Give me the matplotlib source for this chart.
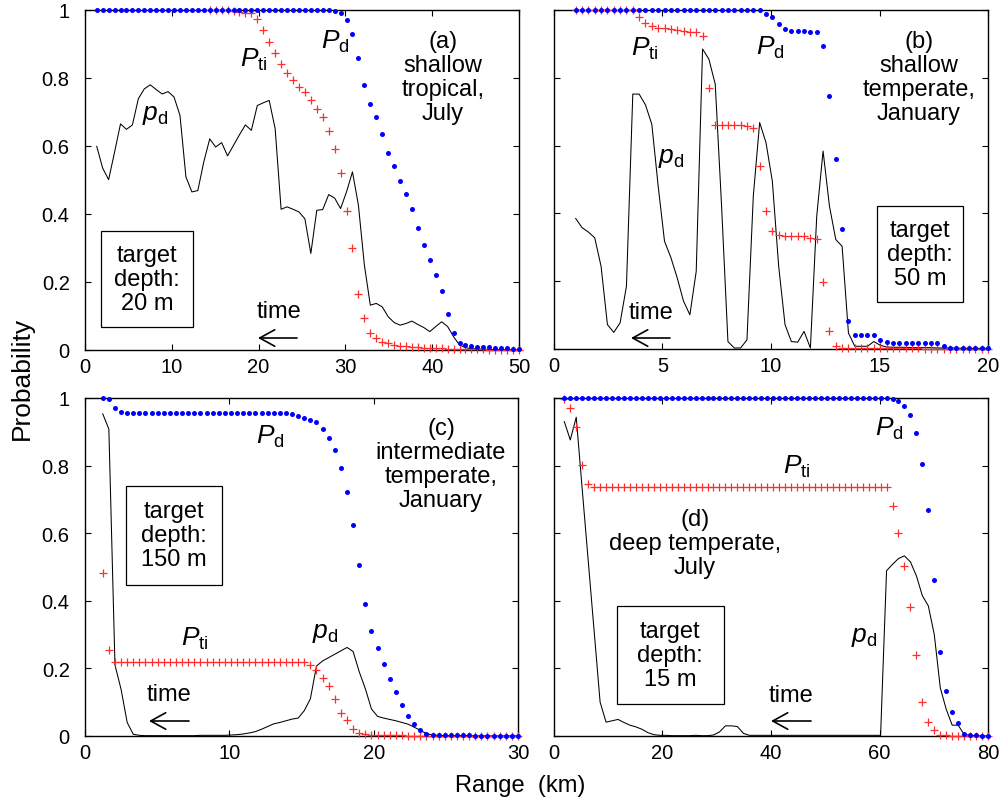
import numpy as np
import matplotlib
matplotlib.use("Agg")
import matplotlib.pyplot as plt
from matplotlib.patches import Rectangle, FancyArrowPatch

plt.rcParams['font.family'] = ['Liberation Sans', 'DejaVu Sans']
plt.rcParams['mathtext.fontset'] = 'custom'
plt.rcParams['mathtext.rm'] = 'Liberation Sans'
plt.rcParams['mathtext.it'] = 'Liberation Sans:italic'

# ---------------- data ----------------
# panel (a): shallow tropical, July (target depth 20 m)
range_a = np.linspace(1.35, 50, 72)
pd_line_a = [0.599, 0.535, 0.501, 0.582, 0.665, 0.649, 0.662, 0.739, 0.768, 0.780,
             0.766, 0.753, 0.760, 0.744, 0.690, 0.509, 0.465, 0.469, 0.553, 0.621,
             0.597, 0.610, 0.571, 0.602, 0.633, 0.662, 0.646, 0.719, 0.727, 0.734,
             0.651, 0.414, 0.421, 0.414, 0.406, 0.386, 0.284, 0.411, 0.413, 0.457,
             0.447, 0.416, 0.465, 0.524, 0.426, 0.250, 0.132, 0.137, 0.127, 0.098,
             0.081, 0.073, 0.078, 0.085, 0.075, 0.066, 0.054, 0.069, 0.083, 0.069,
             0.039, 0.015, 0.007, 0.004, 0.003, 0.002, 0.002, 0.001, 0.001, 0.001,
             0.000, 0.000]
Pti_a = [np.nan] * 19 + [1.0, 1.0, 1.0, 1.0, 0.998, 0.995, 0.992, 0.99,
         0.975, 0.94, 0.905, 0.875, 0.84, 0.815, 0.795, 0.775, 0.76, 0.735,
         0.71, 0.685, 0.645, 0.59, 0.52, 0.41, 0.30, 0.165, 0.093, 0.049,
         0.034, 0.025, 0.020, 0.016, 0.013, 0.011, 0.009, 0.008, 0.007, 0.006,
         0.005, 0.005, 0.004, 0.004, 0.003, 0.003, 0.002, 0.002, 0.002, 0.001,
         0.001, 0.001, 0.001, 0.0, 0.0]
Pd_a = [1.0] * 40 + [0.998, 0.99, 0.97, 0.93, 0.86, 0.78, 0.725, 0.685,
        0.635, 0.58, 0.54, 0.498, 0.46, 0.415, 0.36, 0.31, 0.265, 0.222,
        0.175, 0.105, 0.05, 0.020, 0.015, 0.012, 0.010, 0.009, 0.008, 0.007,
        0.006, 0.005, 0.004, 0.003]

# panel (b): shallow temperate, January (target depth 50 m)
range_b = np.linspace(1.0, 20, 66)
pd_line_b = [0.385, 0.358, 0.345, 0.328, 0.244, 0.072, 0.049, 0.077, 0.185, 0.752,
             0.752, 0.72, 0.663, 0.481, 0.318, 0.27, 0.21, 0.141, 0.101, 0.229,
             0.885, 0.855, 0.781, 0.421, 0.022, 0.003, 0.003, 0.027, 0.451, 0.668,
             0.609, 0.495, 0.244, 0.072, 0.022, 0.020, 0.052, 0.003, 0.392, 0.584,
             0.422, 0.323, 0.303, 0.047, 0.008, 0.008, 0.008, 0.022, 0.011, 0.006,
             0.005, 0.005, 0.005, 0.004, 0.004, 0.004, 0.004, 0.003, 0.003, 0.003,
             0.003, 0.002, 0.002, 0.002, 0.002, 0.002]
Pti_b = [1.0] * 10 + [0.978, 0.963, 0.954, 0.946, 0.946, 0.944, 0.942, 0.939, 0.936,
         0.934, 0.922, 0.771, 0.66, 0.66, 0.66, 0.66, 0.66, 0.658, 0.653, 0.54,
         0.407, 0.347, 0.335, 0.333, 0.333, 0.333, 0.333, 0.327, 0.325, 0.197,
         0.054, 0.008, 0.004, 0.003, 0.003, 0.003, 0.003, 0.003, 0.002, 0.002,
         0.002, 0.002, 0.002, 0.002, 0.002, 0.001, 0.001, 0.001, 0.001, 0.001,
         0.001, 0.001, 0.001, 0.001, 0.001, 0.001]
Pd_b = [1.0] * 30 + [0.988, 0.978, 0.959, 0.944, 0.939, 0.937, 0.937, 0.934, 0.934,
        0.893, 0.745, 0.56, 0.355, 0.084, 0.042, 0.042, 0.042, 0.042, 0.027,
        0.022, 0.019, 0.019, 0.019, 0.019, 0.019, 0.019, 0.019, 0.019, 0.008,
        0.004, 0.004, 0.004, 0.004, 0.003, 0.003, 0.002]

# panel (c): intermediate temperate, January (target depth 150 m)
range_c = np.linspace(1.23, 30, 69)
pd_line_c = [0.953, 0.908, 0.21, 0.138, 0.040, 0.005, 0.002, 0.001, 0.001, 0.001,
             0.001, 0.001, 0.001, 0.001, 0.001, 0.001, 0.002, 0.002, 0.002, 0.002,
             0.002, 0.003, 0.004, 0.006, 0.009, 0.013, 0.02, 0.028, 0.036, 0.04,
             0.045, 0.05, 0.053, 0.075, 0.11, 0.207, 0.222, 0.232, 0.242, 0.252,
             0.262, 0.25, 0.19, 0.14, 0.08, 0.058, 0.053, 0.049, 0.045, 0.04,
             0.035, 0.026, 0.017, 0.007, 0.003, 0.002, 0.001, 0.001, 0.001, 0.001,
             0.001, 0.0, 0.0, 0.0, 0.0, 0.0, 0.0, 0.0, 0.0]
Pti_c = [0.482, 0.254] + [0.220] * 32 + [0.209, 0.195, 0.173, 0.148, 0.109, 0.069,
         0.047, 0.020, 0.010, 0.005, 0.003, 0.003, 0.002, 0.002, 0.002, 0.002,
         0.001, 0.001, 0.001, 0.001, 0.001, 0.001, 0.001, 0.001, 0.001, 0.001,
         0.0, 0.0, 0.0, 0.0, 0.0, 0.0, 0.0, 0.0, 0.0]
Pd_c = [1.0, 0.997, 0.969, 0.959, 0.956] + [0.955] * 26 + [0.952, 0.948, 0.940,
        0.936, 0.928, 0.908, 0.881, 0.846, 0.793, 0.722, 0.624, 0.505, 0.392,
        0.312, 0.259, 0.214, 0.170, 0.129, 0.093, 0.059, 0.035, 0.017, 0.007,
        0.004, 0.003, 0.003, 0.002, 0.002, 0.002, 0.002, 0.001, 0.001, 0.001,
        0.001, 0.001, 0.001, 0.001, 0.001]

# panel (d): deep temperate, July (target depth 15 m)
range_d = np.linspace(1.9, 80, 72)
pd_line_d = [0.93, 0.876, 0.943, 0.73, 0.52, 0.31, 0.10, 0.041, 0.045, 0.049,
             0.04, 0.032, 0.027, 0.02, 0.01, 0.004, 0.002, 0.002, 0.001, 0.001,
             0.001, 0.001, 0.002, 0.001, 0.001, 0.003, 0.012, 0.03, 0.03, 0.028,
             0.008, 0.002, 0.002, 0.002, 0.002, 0.002, 0.002, 0.002, 0.002, 0.002,
             0.002, 0.002, 0.002, 0.002, 0.002, 0.002, 0.002, 0.002, 0.002, 0.002,
             0.002, 0.002, 0.002, 0.002, 0.489, 0.508, 0.525, 0.533, 0.515, 0.474,
             0.415, 0.385, 0.3, 0.143, 0.079, 0.032, 0.032, 0.005, 0.002, 0.001,
             0.0, 0.0]
Pti_d = [0.997, 0.969, 0.913, 0.801, 0.745] + [0.738] * 50 + [0.679, 0.602, 0.503,
         0.383, 0.239, 0.102, 0.041, 0.018, 0.004, 0.002, 0.001, 0.001, 0.001,
         0.0, 0.0, 0.0, 0.0]
Pd_d = [1.0] * 55 + [0.998, 0.990, 0.977, 0.950, 0.896, 0.805, 0.668, 0.463, 0.250,
        0.134, 0.070, 0.037, 0.007, 0.003, 0.002, 0.001, 0.001]

xticks_a = [0, 10, 20, 30, 40, 50]
xticks_b = [0, 5, 10, 15, 20]
xticks_c = [0, 10, 20, 30]
xticks_d = [0, 20, 40, 60, 80]
yticks = [0, 0.2, 0.4, 0.6, 0.8, 1.0]
ytick_labels = ['0', '0.2', '0.4', '0.6', '0.8', '1']

# ---------------- figure ----------------
W, H = 1004, 803
fig = plt.figure(figsize=(W / 100, H / 100), dpi=100)


def make_ax(x0, y0, x1, y1):
    return fig.add_axes([x0 / W, 1 - y1 / H, (x1 - x0) / W, (y1 - y0) / H])


panels = [
    (make_ax(85, 11, 519, 351), range_a, pd_line_a, Pti_a, Pd_a, xticks_a, 50, True),
    (make_ax(554, 11, 988, 350), range_b, pd_line_b, Pti_b, Pd_b, xticks_b, 20, False),
    (make_ax(85, 399, 518, 737), range_c, pd_line_c, Pti_c, Pd_c, xticks_c, 30, True),
    (make_ax(554, 399, 988, 737), range_d, pd_line_d, Pti_d, Pd_d, xticks_d, 80, False),
]

for ax, xr, pdl, pti, Pd, xt, xmax, showy in panels:
    ax.plot(xr, pdl, color='black', lw=0.75, zorder=2)
    ax.plot(xr, pti, ls='none', marker='+', color='#ff2d2d', ms=5.5, mew=0.9,
            clip_on=False, zorder=3)
    ax.plot(xr, Pd, ls='none', marker='o', color='#0000ff', ms=3.6, mec='none',
            clip_on=False, zorder=4)
    ax.set_xlim(0, xmax)
    ax.set_ylim(0, 1)
    ax.set_xticks(xt)
    ax.set_xticklabels([str(t) for t in xt])
    ax.set_yticks(yticks)
    ax.set_yticklabels(ytick_labels)
    ax.tick_params(direction='in', top=True, right=True, length=4, width=0.8,
                   labelsize=14.5, labelleft=showy)
    ax.tick_params(axis='y', pad=11)
    ax.tick_params(axis='x', pad=5)
    for s in ax.spines.values():
        s.set_linewidth(1.0)


def ftext(px, py, s, **kw):
    kw.setdefault('fontsize', 17)
    kw.setdefault('ha', 'center')
    kw.setdefault('va', 'center')
    fig.text(px / W, 1 - py / H, s, **kw)


def fbox(x0, y0, x1, y1):
    fig.add_artist(Rectangle((x0 / W, 1 - y1 / H), (x1 - x0) / W, (y1 - y0) / H,
                             transform=fig.transFigure, fill=False,
                             edgecolor='black', lw=0.9))


def farrow(xhead, xtail, y):
    fig.add_artist(FancyArrowPatch(
        (xtail / W, 1 - y / H), (xhead / W, 1 - y / H), transform=fig.transFigure,
        arrowstyle='->,head_length=0.6,head_width=0.33', mutation_scale=18,
        lw=1.2, color='black', shrinkA=0, shrinkB=0))


Pd_lbl = r'$P_{\mathrm{d}}$'
Pti_lbl = r'$P_{\mathrm{ti}}$'
pd_lbl = r'$p_{\mathrm{d}}$'
lbl_size = 19
ls = 1.12

# panel (a)
ftext(335, 42, Pd_lbl, fontsize=lbl_size)
ftext(254, 60, Pti_lbl, fontsize=lbl_size)
ftext(155, 115, pd_lbl, fontsize=lbl_size)
ftext(443, 78, '(a)\nshallow\ntropical,\nJuly', linespacing=ls)
fbox(101, 232, 193, 328)
ftext(147, 280, 'target\ndepth:\n20 m', linespacing=ls)
ftext(279, 312, 'time')
farrow(258, 297, 339)

# panel (b)
ftext(770, 48, Pd_lbl, fontsize=lbl_size)
ftext(645, 49, Pti_lbl, fontsize=lbl_size)
ftext(671, 158, pd_lbl, fontsize=lbl_size)
ftext(919, 78, '(b)\nshallow\ntemperate,\nJanuary', linespacing=ls)
fbox(877, 207, 963, 303)
ftext(920, 255, 'target\ndepth:\n50 m', linespacing=ls)
ftext(651, 313, 'time')
farrow(631, 670, 339)

# panel (c)
ftext(270, 437, Pd_lbl, fontsize=lbl_size)
ftext(195, 639, Pti_lbl, fontsize=lbl_size)
ftext(325, 633, pd_lbl, fontsize=lbl_size)
ftext(441, 465, '(c)\nintermediate\ntemperate,\nJanuary', linespacing=ls)
fbox(126, 487, 222, 586)
ftext(174, 536, 'target\ndepth:\n150 m', linespacing=ls)
ftext(169, 695, 'time')
farrow(149, 189, 722)

# panel (d)
ftext(889, 429, Pd_lbl, fontsize=lbl_size)
ftext(797, 467, Pti_lbl, fontsize=lbl_size)
ftext(864, 637, pd_lbl, fontsize=lbl_size)
ftext(695, 544, '(d)\ndeep temperate,\nJuly', linespacing=ls)
fbox(617, 607, 724, 705)
ftext(670, 656, 'target\ndepth:\n15 m', linespacing=ls)
ftext(791, 696, 'time')
farrow(771, 811, 722)

# axis labels
ftext(520, 786, 'Range  (km)', fontsize=17)
ftext(22, 378, 'Probability', fontsize=19, rotation=90)

fig.savefig('out.png', dpi=100)
